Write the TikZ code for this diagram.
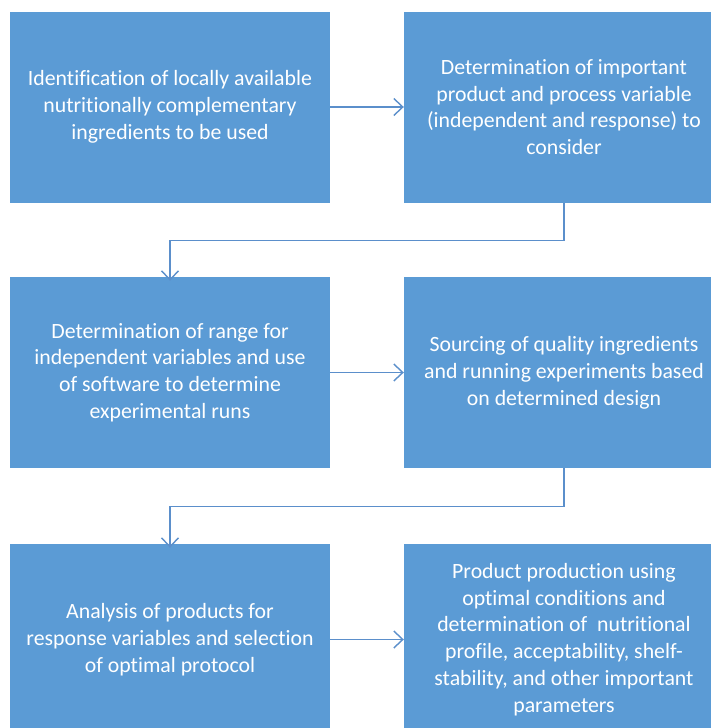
\documentclass[tikz,border=0pt]{standalone}
\usepackage{fontspec}
\setmainfont{Carlito}[Ligatures=NoCommon]
\usetikzlibrary{arrows.meta}
\definecolor{boxblue}{HTML}{5B9BD5}
\definecolor{linkblue}{HTML}{5B8FCB}
\begin{document}
\begin{tikzpicture}[x=1pt,y=-1pt,
  stepbox/.style={fill=boxblue, draw=none, minimum width=320pt, minimum height=191pt,
    text=white, align=center, font=\fontsize{21.8}{26.8}\selectfont, inner sep=0pt},
  link/.style={draw=linkblue, line width=1.4pt,
    -{Straight Barb[length=9pt,width=17pt,line width=1.4pt]}}]
\useasboundingbox (0,0) rectangle (711,728);
\clip (0,0) rectangle (711,728);
\fill[white] (0,0) rectangle (711,728);

% first row
\node[stepbox] (s1) at (170,107) {Identification of locally available\\nutritionally complementary\\ingredients to be used};
\node[stepbox] (s2) at (564,107) {Determination of important\\product and process variable\\(independent and response) to\\consider};

% second row
\node[stepbox] (s3) at (170,372.5) {Determination of range for\\independent variables and use\\of software to determine\\experimental runs};
\node[stepbox] (s4) at (564,372.5) {Sourcing of quality ingredients\\and running experiments based\\on determined design};

% third row
\node[stepbox] (s5) at (170,639.5) {Analysis of products for\\response variables and selection\\of optimal protocol};
\node[stepbox] (s6) at (564,639.5) {Product production using\\optimal conditions and\\determination of ~nutritional\\profile, acceptability, shelf-\\stability, and other important\\parameters};

% connectors
\draw[link] (s1.east) -- (s2.west);
\draw[link] (s3.east) -- (s4.west);
\draw[link] (s5.east) -- (s6.west);
\draw[link] (s2.south) -- ++(0,38) -| ([yshift=-4pt]s3.north);
\draw[link] (s4.south) -- ++(0,38) -| ([yshift=-4pt]s5.north);
\end{tikzpicture}
\end{document}
